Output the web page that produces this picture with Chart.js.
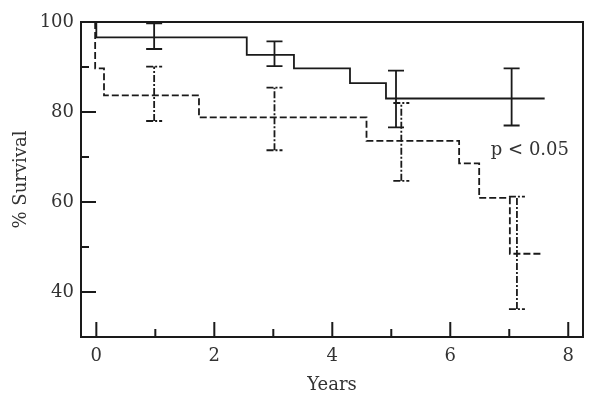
<!DOCTYPE html>
<html>
<head>
<meta charset="utf-8">
<script src="https://cdn.jsdelivr.net/npm/chart.js@4.4.1/dist/chart.umd.min.js"></script>
<style>
  html, body { margin: 0; padding: 0; background: #fff; }
  #wrap { width: 600px; height: 407px; position: relative; }
</style>
</head>
<body>
<div id="wrap"><canvas id="survivalChart"></canvas></div>
<script>
// Kaplan-Meier step points (years, % survival)
const solidX = [0, 0, 2.55, 3.35, 4.30, 4.91, 7.6];
const solidY = [100, 96.6, 92.7, 89.7, 86.4, 83, 83];
const dashedX = [-0.02, -0.02, 0.13, 1.74, 4.58, 6.15, 6.49, 7.01, 7.57];
const dashedY = [100, 89.7, 83.7, 78.8, 73.6, 68.6, 60.9, 48.5, 48.5];

// error bars
const solidErrX = [0.98, 3.02, 5.08, 7.04];
const solidErrLo = [94.0, 90.2, 76.6, 77.0];
const solidErrHi = [99.7, 95.7, 89.2, 89.7];
const dashedErrX = [0.98, 3.02, 5.17, 7.13];
const dashedErrLo = [78.0, 71.5, 64.7, 36.2];
const dashedErrHi = [90.1, 85.4, 82.0, 61.2];

// axes
const xTicks = [0, 2, 4, 6, 8];
const xMinor = [1, 3, 5, 7];
const yTicks = [40, 60, 80, 100];
const yMinor = [50, 70, 90];
const pLabel = 'p < 0.05';
const pLabelPos = [7.35, 71.5];

const ink = '#1a1a1a';
const textInk = '#333';
const serif = "'DejaVu Serif', serif";

const toPoints = (xs, ys) => xs.map((x, i) => ({ x: x, y: ys[i] }));

// draws error bars, the frame, inward ticks and the p-value note
const extrasPlugin = {
    id: 'extras',
    afterDatasetsDraw(chart) {
        const ctx = chart.ctx;
        const xs = chart.scales.x;
        const ys = chart.scales.y;
        const area = chart.chartArea;

        const drawBars = (bx, lo, hi, dash) => {
            ctx.save();
            ctx.strokeStyle = ink;
            ctx.lineWidth = 1.8;
            ctx.setLineDash(dash);
            bx.forEach((x, i) => {
                const px = xs.getPixelForValue(x);
                const pLo = ys.getPixelForValue(lo[i]);
                const pHi = ys.getPixelForValue(hi[i]);
                ctx.beginPath();
                ctx.moveTo(px, pLo);
                ctx.lineTo(px, pHi);
                ctx.moveTo(px - 8, pLo);
                ctx.lineTo(px + 8, pLo);
                ctx.moveTo(px - 8, pHi);
                ctx.lineTo(px + 8, pHi);
                ctx.stroke();
            });
            ctx.restore();
        };
        drawBars(solidErrX, solidErrLo, solidErrHi, []);
        drawBars(dashedErrX, dashedErrLo, dashedErrHi, [7, 2, 2, 2]);

        ctx.save();
        ctx.strokeStyle = ink;
        ctx.lineWidth = 2;
        ctx.strokeRect(area.left, area.top, area.right - area.left, area.bottom - area.top);

        ctx.beginPath();
        xTicks.forEach(v => {
            const px = xs.getPixelForValue(v);
            ctx.moveTo(px, area.bottom);
            ctx.lineTo(px, area.bottom - 15);
        });
        xMinor.forEach(v => {
            const px = xs.getPixelForValue(v);
            ctx.moveTo(px, area.bottom);
            ctx.lineTo(px, area.bottom - 8);
        });
        yTicks.forEach(v => {
            const py = ys.getPixelForValue(v);
            ctx.moveTo(area.left, py);
            ctx.lineTo(area.left + 15, py);
        });
        yMinor.forEach(v => {
            const py = ys.getPixelForValue(v);
            ctx.moveTo(area.left, py);
            ctx.lineTo(area.left + 8, py);
        });
        ctx.stroke();

        ctx.fillStyle = textInk;
        ctx.font = '18px ' + serif;
        ctx.textAlign = 'center';
        ctx.textBaseline = 'middle';
        ctx.fillText(pLabel, xs.getPixelForValue(pLabelPos[0]), ys.getPixelForValue(pLabelPos[1]));
        ctx.restore();
    }
};

new Chart(document.getElementById('survivalChart'), {
    type: 'line',
    data: {
        datasets: [
            {
                label: 'Group A',
                data: toPoints(solidX, solidY),
                borderColor: ink,
                borderWidth: 1.8,
                stepped: 'before',
                pointRadius: 0,
                clip: false
            },
            {
                label: 'Group B',
                data: toPoints(dashedX, dashedY),
                borderColor: ink,
                borderWidth: 1.8,
                borderDash: [7, 3],
                stepped: 'before',
                pointRadius: 0,
                clip: false
            }
        ]
    },
    options: {
        responsive: true,
        maintainAspectRatio: false,
        animation: false,
        layout: { padding: { top: 22, right: 17, left: 0, bottom: 0 } },
        plugins: {
            legend: { display: false },
            tooltip: { enabled: false }
        },
        scales: {
            x: {
                type: 'linear',
                min: -0.26,
                max: 8.25,
                grid: { display: false, drawTicks: false },
                border: { display: false },
                afterBuildTicks: s => { s.ticks = xTicks.map(v => ({ value: v })); },
                afterFit: s => { s.height = 70; },
                ticks: {
                    color: textInk,
                    font: { family: serif, size: 18 },
                    padding: 9,
                    maxRotation: 0
                },
                title: {
                    display: true,
                    text: 'Years',
                    color: textInk,
                    font: { family: serif, size: 18 },
                    padding: { top: 0, bottom: 11 }
                }
            },
            y: {
                type: 'linear',
                min: 30,
                max: 100,
                grid: { display: false, drawTicks: false },
                border: { display: false },
                afterBuildTicks: s => { s.ticks = yTicks.map(v => ({ value: v })); },
                afterFit: s => { s.width = 81; },
                ticks: {
                    color: textInk,
                    font: { family: serif, size: 18 },
                    padding: 7
                },
                title: {
                    display: true,
                    text: '% Survival',
                    color: textInk,
                    font: { family: serif, size: 18 },
                    padding: { top: 11, bottom: 0 }
                }
            }
        }
    },
    plugins: [extrasPlugin]
});
</script>
</body>
</html>
